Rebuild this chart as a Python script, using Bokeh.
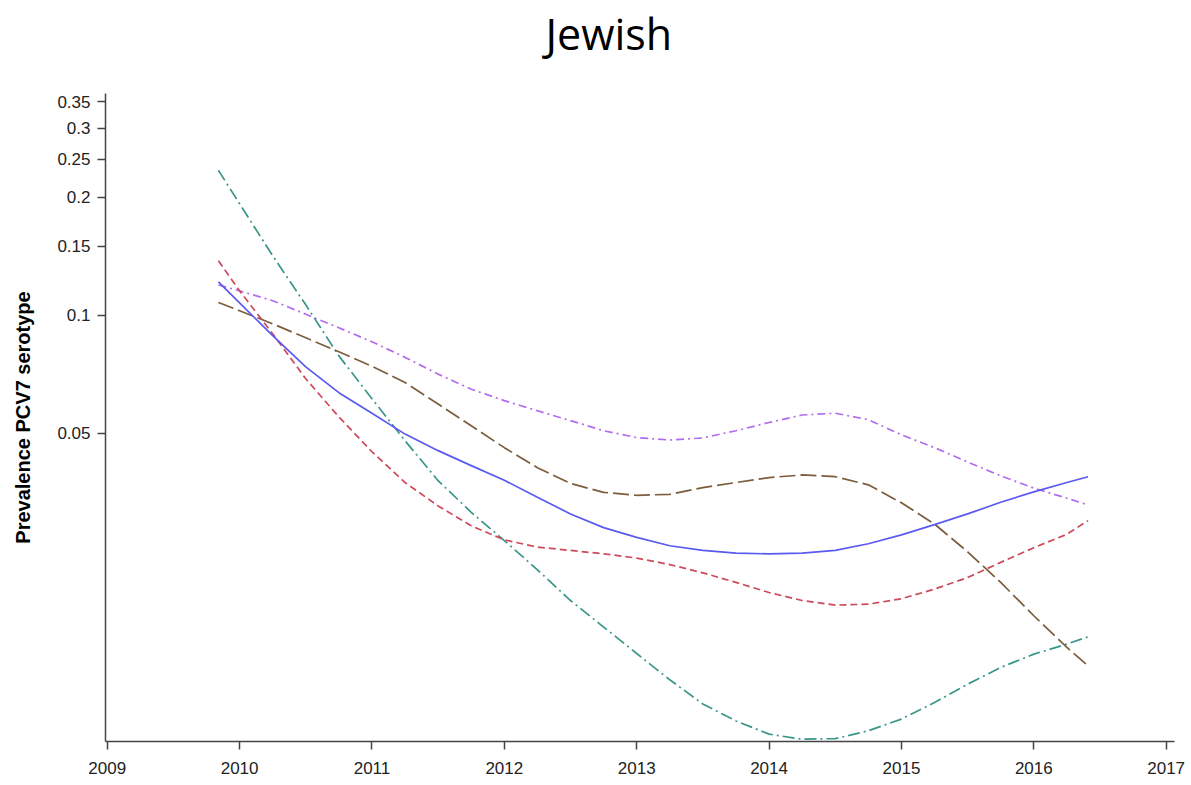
from bokeh.plotting import figure
from bokeh.models import Range1d, FixedTicker, CustomJSTickFormatter, Title
from bokeh.embed import file_html
from bokeh.resources import INLINE

years = [2009.84, 2010, 2010.25, 2010.5, 2010.75, 2011, 2011.25, 2011.5, 2011.75, 2012,
         2012.25, 2012.5, 2012.75, 2013, 2013.25, 2013.5, 2013.75, 2014, 2014.25, 2014.5,
         2014.75, 2015, 2015.25, 2015.5, 2015.75, 2016, 2016.25, 2016.41]

blue = [0.1216, 0.1075, 0.0886, 0.0738, 0.0634, 0.0562, 0.0497, 0.0451, 0.0413, 0.0379,
        0.0343, 0.0311, 0.0287, 0.0271, 0.0258, 0.0251, 0.0247, 0.0246, 0.0247, 0.0251,
        0.0261, 0.0275, 0.0292, 0.0311, 0.0333, 0.0354, 0.0374, 0.0387]
red = [0.1376, 0.1153, 0.0896, 0.0688, 0.0550, 0.0448, 0.0374, 0.0326, 0.0290, 0.0267,
       0.0256, 0.0251, 0.0246, 0.0240, 0.0231, 0.0220, 0.0208, 0.0196, 0.0187, 0.0182,
       0.0183, 0.0189, 0.0200, 0.0214, 0.0234, 0.0255, 0.0276, 0.0299]
brown = [0.1077, 0.1026, 0.0950, 0.0875, 0.0806, 0.0740, 0.0673, 0.0593, 0.0522, 0.0459,
         0.0408, 0.0372, 0.0353, 0.0347, 0.0349, 0.0363, 0.0374, 0.0385, 0.0391, 0.0387,
         0.0369, 0.0332, 0.0293, 0.0249, 0.0208, 0.0171, 0.0142, 0.01275]
purple = [0.1193, 0.1153, 0.1088, 0.1005, 0.0928, 0.0855, 0.0780, 0.0707, 0.0647, 0.0605,
          0.0570, 0.0538, 0.0507, 0.0487, 0.0480, 0.0486, 0.0507, 0.0532, 0.0556, 0.0562,
          0.0541, 0.0495, 0.0459, 0.0422, 0.0389, 0.0362, 0.0341, 0.0328]
teal = [0.2341, 0.1923, 0.1417, 0.1062, 0.0787, 0.0612, 0.0478, 0.0378, 0.0314, 0.0266,
        0.0224, 0.0187, 0.0160, 0.0137, 0.01174, 0.01018, 0.00922, 0.00853, 0.00828, 0.00831,
        0.0087, 0.00932, 0.01027, 0.01144, 0.01262, 0.01365, 0.01448, 0.01511]

x_ticks = [2009, 2010, 2011, 2012, 2013, 2014, 2015, 2016, 2017]
y_ticks = [0.05, 0.1, 0.15, 0.2, 0.25, 0.3, 0.35]
title_text = "Jewish"
y_label = "Prevalence PCV7 serotype"

p = figure(width=1186, height=777,
           x_range=Range1d(2008.987, 2017.063),
           y_range=Range1d(0.00817, 0.3675),
           y_axis_type="log",
           output_backend="svg", toolbar_location=None,
           min_border_left=105, min_border_right=12,
           min_border_top=93, min_border_bottom=36)
p.outline_line_color = None
p.grid.visible = False
p.background_fill_color = "white"
p.border_fill_color = "white"

p.title.text = title_text
p.title.text_font = "Open Sans"
p.title.text_font_style = "normal"
p.title.text_font_size = "43px"
p.title.text_color = "black"
p.title.align = "left"
p.title.offset = 440
p.title.standoff = 0

# spacer between title and plot frame
p.add_layout(Title(text=" ", text_font_size="10px", standoff=18), "above")

series = [
    (teal, "#3a958a", "12 4 2 4"),
    (purple, "#b36bef", "8 4 2 4"),
    (brown, "#7b5d3c", "16 5"),
    (red, "#cd4a5a", "7 4"),
    (blue, "#5a5af0", "solid"),
]
for ys, col, dash in series:
    p.line(years, ys, line_color=col, line_width=1.7, line_dash=dash,
           line_join="round")

for ax in (p.xaxis[0], p.yaxis[0]):
    ax.axis_line_color = "#444444"
    ax.axis_line_width = 1.5
    ax.major_tick_line_color = "#444444"
    ax.major_tick_line_width = 1.5
    ax.major_tick_in = 0
    ax.major_tick_out = 8
    ax.minor_tick_line_color = None
    ax.major_label_text_font = "Liberation Sans"
    ax.major_label_text_font_size = "17px"
    ax.major_label_text_color = "#222222"

p.xaxis.ticker = FixedTicker(ticks=x_ticks, minor_ticks=[])
p.yaxis.ticker = FixedTicker(ticks=y_ticks, minor_ticks=[])
p.yaxis.formatter = CustomJSTickFormatter(code="return String(Math.round(tick*100)/100);")
p.xaxis.major_label_standoff = 12
p.yaxis.major_label_standoff = 7

p.yaxis.axis_label = y_label
p.yaxis.axis_label_text_font = "Liberation Sans"
p.yaxis.axis_label_text_font_style = "bold"
p.yaxis.axis_label_text_font_size = "20px"
p.yaxis.axis_label_text_color = "black"
p.yaxis.axis_label_standoff = 20

open("out.html", "w").write(file_html(p, INLINE))
